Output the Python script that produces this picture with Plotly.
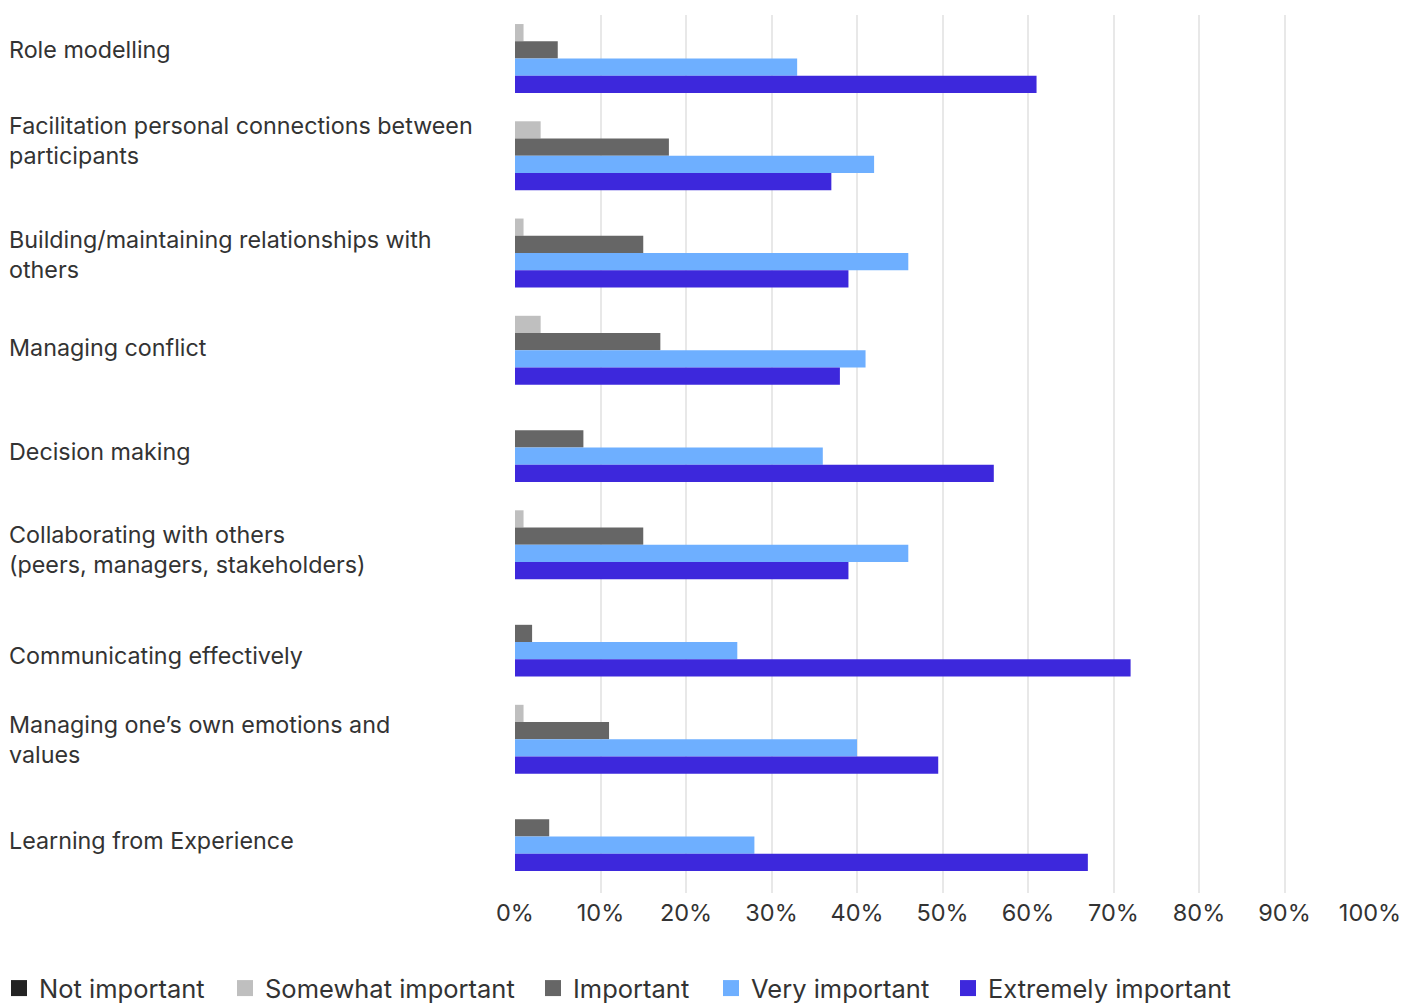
import plotly.graph_objects as go

# Survey: importance of leadership skills
categories = [
    "Role modelling",
    "Facilitation personal connections between<br>participants",
    "Building/maintaining relationships with<br>others",
    "Managing conflict",
    "Decision making",
    "Collaborating with others<br>(peers, managers, stakeholders)",
    "Communicating effectively",
    "Managing one’s own emotions and<br>values",
    "Learning from Experience",
]

not_important = [0, 0, 0, 0, 0, 0, 0, 0, 0]
somewhat_important = [1, 3, 1, 3, 0, 1, 0, 1, 0]
important = [5, 18, 15, 17, 8, 15, 2, 11, 4]
very_important = [33, 42, 46, 41, 36, 46, 26, 40, 28]
extremely_important = [61, 37, 39, 38, 56, 39, 72, 49.5, 67]

series = [
    ("Not important", not_important, "#232323"),
    ("Somewhat important", somewhat_important, "#bfbfbf"),
    ("Important", important, "#666666"),
    ("Very important", very_important, "#6eafff"),
    ("Extremely important", extremely_important, "#3d28dc"),
]

x_ticks = list(range(0, 101, 10))

# vertical nudge (px) for each row label relative to its bar group
label_nudge = [0, 7, -10, -6, -13, -13, -22, -9, -13]

# left edge (px from page left) of each legend entry
legend_left = [-1, 225, 533, 711, 948]

FONT = "Inter"
TEXT = "#333333"

PLOT_L, PLOT_R, PLOT_T, PLOT_B = 515, 40, 15, 113
PLOT_W = 1410 - PLOT_L - PLOT_R
PLOT_H = 1006 - PLOT_T - PLOT_B

fig = go.Figure()

for name, values, color in series:
    fig.add_trace(go.Bar(
        y=categories,
        x=values,
        name=name,
        orientation="h",
        marker=dict(color=color, line=dict(width=0)),
        showlegend=False,
        legendgroup=name,
        hoverinfo="x+name",
    ))

# legend entries with larger square swatches, one legend box per entry
legend_layout = {}
for i, ((name, values, color), left) in enumerate(zip(series, legend_left)):
    key = "legend" if i == 0 else f"legend{i + 1}"
    fig.add_trace(go.Scatter(
        x=[None], y=[None],
        mode="markers",
        name=name,
        legendgroup=name,
        legend=key,
        marker=dict(symbol="square", size=16, color=color),
        showlegend=True,
    ))
    legend_layout[key] = dict(
        orientation="h",
        xref="paper", yref="paper",
        x=(left - PLOT_L) / PLOT_W, y=-72 / PLOT_H,
        xanchor="left", yanchor="top",
        font=dict(family=FONT, size=25.5, color=TEXT),
        bgcolor="rgba(0,0,0,0)",
    )

for cat, nudge in zip(categories, label_nudge):
    fig.add_annotation(
        xref="paper", yref="y",
        x=-(PLOT_L - 7) / PLOT_W, y=cat,
        text=cat,
        showarrow=False,
        xanchor="left", yanchor="middle",
        align="left",
        yshift=nudge,
        font=dict(family=FONT, size=23.3, color=TEXT),
    )

n = len(categories)
fig.update_layout(
    width=1410,
    height=1006,
    margin=dict(l=PLOT_L, r=PLOT_R, t=PLOT_T, b=PLOT_B, autoexpand=False),
    paper_bgcolor="white",
    plot_bgcolor="white",
    barmode="group",
    bargap=0.113,
    bargroupgap=0,
    font=dict(family=FONT, size=23, color=TEXT),
    xaxis=dict(
        range=[0, 100],
        tickvals=x_ticks,
        ticktext=[f"{v}%" for v in x_ticks],
        showgrid=True,
        gridcolor="#e8e8e8",
        gridwidth=2,
        zeroline=False,
        showline=False,
        ticks="",
        ticklabelstandoff=3,
        tickfont=dict(family=FONT, size=23.5, color=TEXT),
    ),
    yaxis=dict(
        type="category",
        categoryorder="array",
        categoryarray=categories,
        range=[n - 1 + 0.669, -0.359],
        showticklabels=False,
        showgrid=False,
        zeroline=False,
        showline=False,
        ticks="",
    ),
    **legend_layout,
)

fig.write_html("out.html")
